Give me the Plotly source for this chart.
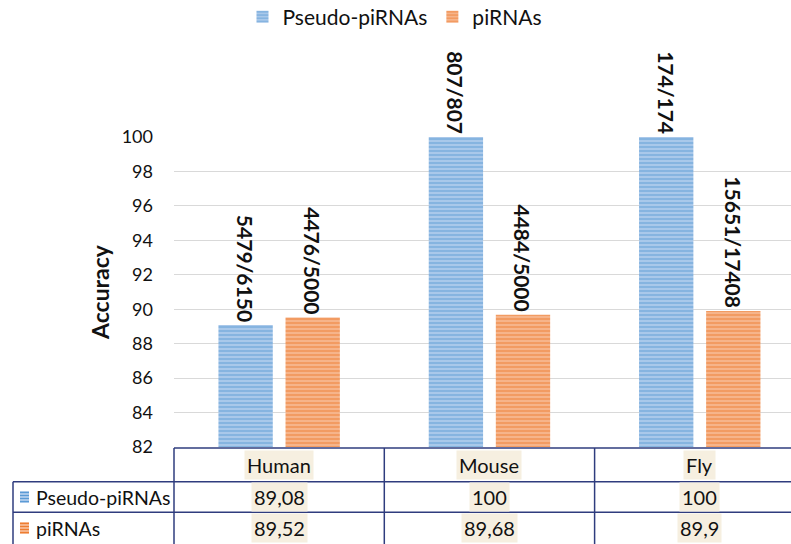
import plotly.graph_objects as go

categories = ["Human", "Mouse", "Fly"]
series_names = ["Pseudo-piRNAs", "piRNAs"]
pseudo_values = [89.08, 100, 100]
pirna_values = [89.52, 89.68, 89.9]
pseudo_labels = ["5479/6150", "807/807", "174/174"]
pirna_labels = ["4476/5000", "4484/5000", "15651/17408"]
pseudo_table = ["89,08", "100", "100"]
pirna_table = ["89,52", "89,68", "89,9"]
y_ticks = [82, 84, 86, 88, 90, 92, 94, 96, 98, 100]

W, H = 791, 544
FONT = "Lato"
LINE = "#2f3c7e"
BLUE_L, BLUE_D = "#a9c8ea", "#5b9bd5"
ORNG_L, ORNG_D = "#f6b48a", "#ed7d31"

def px(x):
    return x / W

def py(y):
    return (H - y) / H

fig = go.Figure()
for name, vals, labs, cl, cd in [
    (series_names[0], pseudo_values, pseudo_labels, BLUE_L, BLUE_D),
    (series_names[1], pirna_values, pirna_labels, ORNG_L, ORNG_D),
]:
    fig.add_trace(go.Bar(
        x=categories, y=vals, name=name, text=labs,
        textposition="outside", textangle=90, cliponaxis=False, constraintext="none",
        textfont=dict(family=FONT, size=21, color="#111111", weight="bold"),
        marker=dict(color=cl, line=dict(width=0),
                    pattern=dict(shape="-", fgcolor=cd, bgcolor=cl, size=4, solidity=0.45)),
    ))

col_w = 210.3
x0 = 174
fig.update_layout(
    width=W, height=H, margin=dict(l=0, r=0, t=0, b=0, autoexpand=False),
    paper_bgcolor="white", plot_bgcolor="white",
    barmode="group", bargap=0.362, bargroupgap=0.19,
    font=dict(family=FONT, color="#111111"),
    legend=dict(orientation="h", x=px(395), xanchor="center", y=py(17), yanchor="middle",
                font=dict(size=21, family=FONT), itemwidth=30, traceorder="normal"),
    xaxis=dict(domain=[px(x0), 1], range=[-0.5, -0.5 + (W - x0) / col_w], automargin=False,
               showticklabels=False, showgrid=False, zeroline=False, showline=False),
    yaxis=dict(domain=[py(447), py(137)], range=[82, 100], tickvals=y_ticks, automargin=False,
               showgrid=True, gridcolor="#d9d9d9", gridwidth=1, zeroline=False,
               showline=False, ticklabelstandoff=20,
               tickfont=dict(size=18, family=FONT, color="#111111")),
)

# y-axis title
fig.add_annotation(text="<b>Accuracy</b>", x=px(100), y=py(292), xref="paper", yref="paper",
                   xanchor="center", yanchor="middle",
                   textangle=-90, showarrow=False, font=dict(size=23, family=FONT))

# data table lines
shapes = []
def hline(y, xa, xb):
    shapes.append(dict(type="line", xref="paper", yref="paper", x0=px(xa), x1=px(xb),
                       y0=py(y), y1=py(y), line=dict(color=LINE, width=1.5)))
def vline(x, ya, yb):
    shapes.append(dict(type="line", xref="paper", yref="paper", x0=px(x), x1=px(x),
                       y0=py(ya), y1=py(yb), line=dict(color=LINE, width=1.5)))

hline(448, x0, W)
hline(481.7, 13, W)
hline(512.3, 13, W)
vline(13, 481.7, H)
for i in range(3):
    vline(x0 + i * col_w, 448, H)

# legend keys in table
for yc, cl, cd in [(497, BLUE_L, BLUE_D), (528, ORNG_L, ORNG_D)]:
    shapes.append(dict(type="rect", xref="paper", yref="paper", x0=px(20), x1=px(29),
                       y0=py(yc + 6), y1=py(yc - 6), fillcolor=cl, line=dict(width=0)))
    for k in range(4):
        yy = yc - 4.5 + k * 3
        shapes.append(dict(type="line", xref="paper", yref="paper", x0=px(20), x1=px(29),
                           y0=py(yy), y1=py(yy), line=dict(color=cd, width=1)))
fig.update_layout(shapes=shapes)

HL = "#f6efe0"
TF = dict(size=20, family=FONT)
for i, c in enumerate(categories):
    for yc, txt in [(465, c), (497, pseudo_table[i]), (528, pirna_table[i])]:
        fig.add_annotation(text=txt, x=c, xref="x", y=py(yc), yref="paper", showarrow=False,
                           xanchor="center", yanchor="middle",
                           bgcolor=HL, borderpad=2, font=TF)

for yc, name in [(497, series_names[0]), (528, series_names[1])]:
    fig.add_annotation(text=name, x=px(34), xanchor="left", yanchor="middle", y=py(yc),
                       xref="paper", yref="paper", showarrow=False,
                       font=dict(size=19.5, family=FONT))

fig.write_html("out.html", config={"displayModeBar": False},
               post_script="document.body.style.margin='0';document.body.style.overflow='hidden';")
